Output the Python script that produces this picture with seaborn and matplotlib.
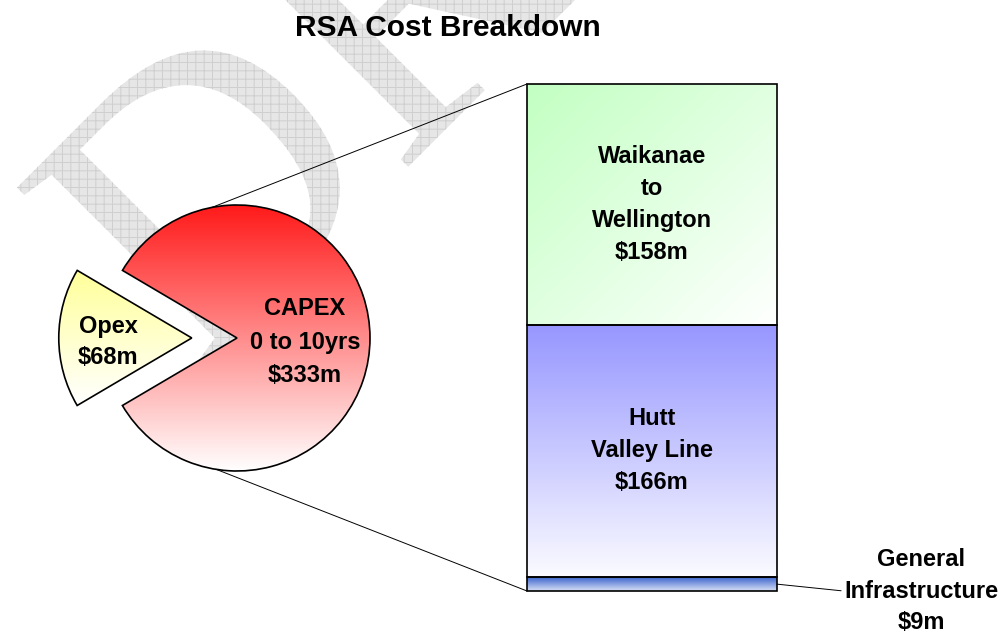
import numpy as np
import pandas as pd
import matplotlib
matplotlib.use("Agg")
import matplotlib.pyplot as plt
import matplotlib.colors as mcolors
import seaborn as sns
from matplotlib.patches import PathPatch, ConnectionPatch
from matplotlib.textpath import TextPath
from matplotlib.font_manager import FontProperties
from matplotlib.transforms import Affine2D

# data ($m)
pie_labels = ["CAPEX\n0 to 10yrs", "Opex"]
pie_values = [333, 68]

bar_labels = ["General\nInfrastructure", "Hutt\nValley Line", "Waikanae\nto\nWellington"]
bar_values = [9, 166, 158]

sns.set_style("white")
plt.rcParams["font.family"] = ["Liberation Sans", "DejaVu Sans"]
plt.rcParams["text.color"] = "black"
plt.rcParams["hatch.linewidth"] = 0.7

W, H = 1007, 634
fig = plt.figure(figsize=(W / 100, H / 100), dpi=100)
fig.patch.set_facecolor("white")

LABEL_SIZE = 17


def box(x0, y0, x1, y1):
    # pixel box (origin top-left) -> figure fraction rect
    return [x0 / W, 1 - y1 / H, (x1 - x0) / W, (y1 - y0) / H]


def gradient_fill(ax, patch, c0, c1, diagonal=False, n=256):
    bb = patch.get_path().get_extents(patch.get_patch_transform())
    t = np.linspace(0, 1, n)
    if diagonal:
        u, v = np.meshgrid(t, t)
        f = (u + v) / 2
    else:
        f = np.repeat(t[:, None], 2, axis=1)
    a = np.array(mcolors.to_rgb(c0))
    b = np.array(mcolors.to_rgb(c1))
    img = a + (b - a) * f[..., None]
    im = ax.imshow(img, extent=(bb.x0, bb.x1, bb.y0, bb.y1), origin="upper",
                   aspect="auto", interpolation="bilinear",
                   zorder=patch.get_zorder() - 0.5)
    im.set_clip_path(patch)
    patch.set_facecolor("none")


# DRAFT watermark in the background
wm = fig.add_axes([0, 0, 1, 1], zorder=0)
wm.set_xlim(0, W)
wm.set_ylim(0, H)
wm.axis("off")
tp = TextPath((0, 0), "DRAFT", size=400, prop=FontProperties(family="Liberation Serif"))
tr = Affine2D().rotate_deg(45).translate(194, H - 381)
wm.add_patch(PathPatch(tr.transform_path(tp), facecolor="#e6e6e6",
                       edgecolor="#cfcfcf", lw=0, hatch="++"))

# pie
pax = fig.add_axes(box(37, 138, 437, 538), zorder=1)
wedges, _ = pax.pie(pie_values, explode=[0, 0.34], startangle=210.5,
                    wedgeprops=dict(edgecolor="black", linewidth=1.2))
pie_colors = [("#ff1a1a", "#ffffff"), ("#ffff99", "#ffffff")]
label_dist = [0.51, 0.63]
pie_spacing = [1.6, 1.4]
for w, lab, val, cols, d, ls in zip(wedges, pie_labels, pie_values, pie_colors, label_dist, pie_spacing):
    gradient_fill(pax, w, *cols)
    mid = np.deg2rad((w.theta1 + w.theta2) / 2)
    cx, cy = w.center
    pax.text(cx + d * np.cos(mid), cy + d * np.sin(mid) - 0.03, f"{lab}\n\\${val}m",
             ha="center", va="center", fontsize=LABEL_SIZE, fontweight="bold",
             color="black", linespacing=ls, zorder=5)
lim = 200 / 133
pax.set_xlim(-lim, lim)
pax.set_ylim(-lim, lim)
pax.axis("off")

# stacked bar of the CAPEX split
df = pd.DataFrame({"segment": bar_labels, "value": bar_values})
df["top"] = df["value"].cumsum()
df["bottom"] = df["top"] - df["value"]

bax = fig.add_axes(box(527, 84, 777, 591), zorder=2)
for top in df["top"][::-1]:
    sns.barplot(x=["RSA"], y=[top], ax=bax, color="white", edgecolor="black",
                linewidth=1.2, width=0.8, errorbar=None)
bars = bax.patches[::-1]
bar_colors = [("#3c64cd", "#d8e0f6", False), ("#9696ff", "#fbfbff", False),
              ("#c2ffc2", "#ffffff", True)]
for bar, (_, row), (c0, c1, diag) in zip(bars, df.iterrows(), bar_colors):
    bar.set_y(row["bottom"])
    bar.set_height(row["value"])
    bar.set_clip_on(False)
    gradient_fill(bax, bar, c0, c1, diagonal=diag)

bax.set_xlim(bars[0].get_x(), bars[0].get_x() + bars[0].get_width())
bax.set_ylim(0, df["top"].iloc[-1])
bax.axis("off")

for bar, (_, row) in list(zip(bars, df.iterrows()))[1:]:
    bax.text(bar.get_x() + bar.get_width() / 2, row["bottom"] + row["value"] / 2,
             f"{row['segment']}\n\\${row['value']}m", ha="center", va="center",
             fontsize=LABEL_SIZE, fontweight="bold", color="black",
             linespacing=1.5, zorder=5)

gen = df.iloc[0]
bax.annotate(f"{gen['segment']}\n\\${gen['value']}m",
             xy=(bars[0].get_x() + bars[0].get_width(), gen["bottom"] + gen["value"] / 2),
             xytext=(104, -5), textcoords="offset points", ha="center", va="center",
             fontsize=LABEL_SIZE, fontweight="bold", color="black", linespacing=1.45,
             annotation_clip=False,
             arrowprops=dict(arrowstyle="-", color="black", lw=0.7, relpos=(0, 0.5),
                             shrinkA=0, shrinkB=0))

# connector lines pie -> bar
for ang, yb in [(100.8, df["top"].iloc[-1]), (261, 0)]:
    a = np.deg2rad(ang)
    con = ConnectionPatch(xyA=(np.cos(a), np.sin(a)), coordsA=pax.transData,
                          xyB=(bars[0].get_x(), yb), coordsB=bax.transData,
                          color="black", lw=0.7, zorder=1.5)
    fig.add_artist(con)

fig.text(447.5 / W, 1 - 28 / H, "RSA Cost Breakdown", ha="center", va="center",
         fontsize=21.5, fontweight="bold", color="black", zorder=5)

fig.savefig("out.png", dpi=100)
